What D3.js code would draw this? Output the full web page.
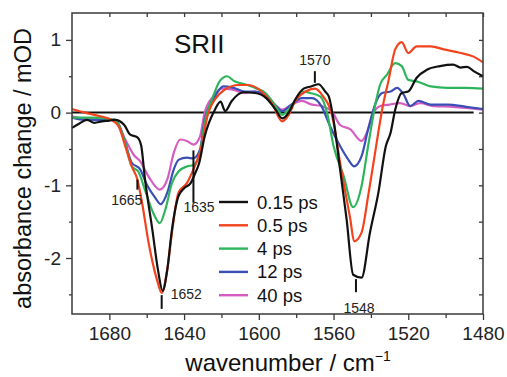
<!DOCTYPE html>
<html>
<head>
<meta charset="utf-8">
<script src="https://cdn.jsdelivr.net/npm/d3@7"></script>
<style>
  body { margin: 0; background: #fff; }
  svg { display: block; font-family: "Liberation Sans", Arial, sans-serif; }
  .tick text { fill: #222; }
</style>
</head>
<body>
<div id="container"></div>
<script>
// delay labels, colours for the legend
const delays = ["0.15 ps", "0.5 ps", "4 ps", "12 ps", "40 ps"];
const colors = ["#111111", "#f2431d", "#2eb55c", "#3a4fb6", "#d65cc2"];

// spectra, [wavenumber, mOD]
const s015 = [[1700,-0.21],[1696,-0.15],[1692,-0.10],[1688,-0.14],[1684,-0.12],[1680,-0.11],[1677,-0.10],[1672,-0.17],[1669,-0.30],[1665,-0.34],[1663,-0.45],[1661,-0.9],[1657,-1.61],[1654,-2.16],[1651.5,-2.45],[1649,-2.16],[1646.5,-1.61],[1643,-1.15],[1640,-1.04],[1636.5,-0.97],[1634,-0.83],[1632,-0.70],[1629,-0.33],[1623.5,0.04],[1620.5,0.15],[1618,0.02],[1614.5,0.16],[1608,0.28],[1602,0.27],[1596,0.20],[1591,0.04],[1587.5,-0.08],[1584,0.0],[1580.5,0.18],[1576,0.33],[1572,0.36],[1568,0.39],[1564.5,0.29],[1562.5,0.22],[1560,-0.1],[1556.5,-0.78],[1553,-1.47],[1549.5,-2.23],[1545,-2.27],[1540.5,-1.65],[1536,-1.10],[1532,-0.46],[1529.5,-0.28],[1527,0.04],[1523.5,0.27],[1520,0.29],[1515.5,0.48],[1510,0.59],[1503,0.64],[1496,0.66],[1492,0.62],[1488.5,0.63],[1485,0.57],[1480,0.50]];
const s05 = [[1700,0.05],[1693,0.0],[1685,-0.05],[1679,-0.10],[1675,-0.19],[1671.5,-0.46],[1668,-0.74],[1665,-0.92],[1662.5,-1.24],[1659,-1.79],[1654.5,-2.30],[1652,-2.48],[1649,-2.16],[1646.5,-1.65],[1643,-1.10],[1638.5,-0.97],[1635,-0.78],[1631.5,-0.55],[1627,0.0],[1623.5,0.18],[1618,0.32],[1611,0.38],[1605.5,0.38],[1598.5,0.29],[1593,0.13],[1587.5,-0.12],[1584,-0.03],[1580.5,0.16],[1575,0.29],[1570,0.33],[1565.5,0.22],[1561,-0.02],[1559.5,-0.2],[1556.5,-0.69],[1551,-1.47],[1549,-1.77],[1545,-1.65],[1541.5,-1.15],[1537.5,-0.51],[1534,0.04],[1530.5,0.45],[1527,0.87],[1523.5,0.97],[1520,0.82],[1515.5,0.91],[1508,0.91],[1501,0.87],[1492,0.82],[1485,0.77],[1480,0.69]];
const s4 = [[1700,-0.07],[1689,-0.07],[1677,-0.10],[1671.5,-0.42],[1668,-0.74],[1664.5,-0.81],[1661,-1.06],[1656.5,-1.38],[1653,-1.52],[1650,-1.33],[1646.5,-0.97],[1643,-0.81],[1638.5,-0.74],[1635,-0.72],[1631.5,-0.55],[1629,-0.14],[1624.5,0.22],[1621,0.43],[1617,0.50],[1613,0.43],[1607.5,0.39],[1602,0.34],[1596.5,0.27],[1591.5,0.11],[1587.5,-0.03],[1582.5,0.09],[1577,0.29],[1572.5,0.27],[1567,0.22],[1563.5,0.0],[1560,-0.46],[1554.5,-0.88],[1549.5,-1.30],[1545,-1.01],[1541.5,-0.46],[1537.5,0.13],[1535,0.39],[1531.5,0.52],[1527,0.68],[1523.5,0.64],[1520,0.45],[1515.5,0.43],[1508,0.36],[1499,0.34],[1489,0.34],[1480,0.33]];
const s12 = [[1700,-0.07],[1693,-0.10],[1677,-0.10],[1672,-0.37],[1668,-0.69],[1663.5,-0.78],[1660,-0.99],[1655.5,-1.17],[1652.5,-1.26],[1649,-1.10],[1645.5,-0.78],[1643,-0.65],[1638.5,-0.62],[1635,-0.63],[1631.5,-0.51],[1629,-0.10],[1623.5,0.22],[1619,0.36],[1613.5,0.34],[1607.5,0.29],[1602,0.29],[1596.5,0.25],[1591.5,0.11],[1587.5,0.02],[1582.5,0.11],[1577,0.20],[1571.5,0.20],[1566.5,0.09],[1561.8,-0.19],[1556.5,-0.46],[1552,-0.65],[1549,-0.74],[1545,-0.60],[1541.5,-0.23],[1537.5,0.13],[1534,0.27],[1529.5,0.29],[1526,0.34],[1522.5,0.25],[1519,0.09],[1514.5,0.16],[1508,0.11],[1499,0.11],[1489,0.08],[1480,0.05]];
const s40 = [[1700,-0.05],[1691,-0.09],[1677,-0.10],[1671.5,-0.37],[1667,-0.58],[1663.5,-0.67],[1659,-0.88],[1653,-1.06],[1649,-0.92],[1645.5,-0.55],[1642,-0.37],[1638.5,-0.39],[1635,-0.44],[1631.5,-0.33],[1629,0.0],[1624.5,0.22],[1620,0.33],[1614.5,0.32],[1607.5,0.27],[1602,0.29],[1596,0.20],[1590.5,0.09],[1587.5,0.04],[1582.5,0.11],[1577,0.16],[1571.5,0.11],[1566.5,0.09],[1561,0.02],[1556.5,-0.17],[1551,-0.23],[1545,-0.39],[1541.5,-0.23],[1538.5,0.0],[1535,0.09],[1530,0.11],[1524.5,0.13],[1519,0.09],[1513.5,0.13],[1506.5,0.09],[1496,0.08],[1480,0.04]];
const spectra = [s015, s05, s4, s12, s40];

// tick values
const xMajor = [1680, 1640, 1600, 1560, 1520, 1480];
const xMinor = [1660, 1620, 1580, 1540, 1500];
const yMajor = [1, 0, -1, -2];
const yMinor = [0.5, -0.5, -1.5, -2.5];

// band assignments: [wavenumber, label side]
const bands = [[1665, "left"], [1635, "right"], [1652, "right"], [1570, "top"], [1548, "bottom"]];

const W = 507, H = 377;
const L = 72, R = 483, T = 13, B = 314;

const svg = d3.select("#container").append("svg")
    .attr("width", W).attr("height", H);

const x = d3.scaleLinear().domain([1700, 1480]).range([L, R]);
const y = d3.scaleLinear().domain([-2.77, 1.37]).range([B, T]);

const frameCol = "#3a3a3a";

// axes
function styleAxis(g) {
    g.select(".domain").remove();
    g.selectAll(".tick line").attr("stroke", frameCol).attr("stroke-width", 1.3);
}
svg.append("g").attr("transform", `translate(0,${B})`)
    .call(d3.axisBottom(x).tickValues(xMajor).tickSize(6).tickPadding(7).tickFormat(d => d))
    .call(styleAxis)
    .selectAll("text").style("font-size", "19px");
svg.append("g").attr("transform", `translate(0,${B})`)
    .call(d3.axisBottom(x).tickValues(xMinor).tickSize(4).tickFormat(""))
    .call(styleAxis);
svg.append("g").attr("transform", `translate(0,${T})`)
    .call(d3.axisTop(x).tickValues(xMajor.concat(xMinor)).tickSize(-4).tickFormat(""))
    .call(styleAxis);
svg.append("g").attr("transform", `translate(${L},0)`)
    .call(d3.axisLeft(y).tickValues(yMajor).tickSize(6).tickPadding(5).tickFormat(d => String(d)))
    .call(styleAxis)
    .selectAll("text").style("font-size", "19px");
svg.append("g").attr("transform", `translate(${L},0)`)
    .call(d3.axisLeft(y).tickValues(yMinor).tickSize(3).tickFormat(""))
    .call(styleAxis);
svg.append("g").attr("transform", `translate(${R},0)`)
    .call(d3.axisRight(y).tickValues(yMajor.concat(yMinor)).tickSize(-4).tickFormat(""))
    .call(styleAxis);

// zero line
svg.append("line")
    .attr("x1", x(1700)).attr("x2", x(1485))
    .attr("y1", y(0)).attr("y2", y(0))
    .attr("stroke", "#111").attr("stroke-width", 2);

// spectra, black drawn last so it sits on top
const line = d3.line()
    .x(d => x(d[0]))
    .y(d => y(d[1]))
    .curve(d3.curveMonotoneX);

svg.append("g").selectAll("path")
    .data(spectra.map((s, i) => ({ s, i })).reverse())
    .join("path")
    .attr("d", d => line(d.s))
    .attr("fill", "none")
    .attr("stroke", d => colors[d.i])
    .attr("stroke-width", 2.2)
    .attr("stroke-linejoin", "round");

// frame
svg.append("rect")
    .attr("x", L).attr("y", T)
    .attr("width", R - L).attr("height", B - T)
    .attr("fill", "none").attr("stroke", frameCol).attr("stroke-width", 1.5);

// band markers
const mark = svg.append("g").style("font-size", "14px").attr("fill", "#222");
function bandMark(wn, y1, y2, tx, ty, anchor) {
    mark.append("line")
        .attr("x1", x(wn)).attr("x2", x(wn)).attr("y1", y1).attr("y2", y2)
        .attr("stroke", "#111").attr("stroke-width", 2);
    mark.append("text").attr("x", tx).attr("y", ty)
        .attr("text-anchor", anchor).text(wn);
}
bandMark(bands[0][0], y(-0.92), y(-1.06), x(1665) + 5, y(-1.27), "end");
bandMark(bands[1][0], y(-0.52), y(-1.24), x(1635) - 10, y(-1.37), "start");
bandMark(bands[2][0], y(-2.51), y(-2.7), x(1652) + 9, y(-2.56), "start");
bandMark(bands[3][0], y(0.57), y(0.41), x(1570), y(0.66), "middle");
bandMark(bands[4][0], y(-2.29), y(-2.47), x(1548) + 3, y(-2.76), "middle");

// SRII label
svg.append("text")
    .attr("x", 174).attr("y", 53)
    .style("font-size", "26px").attr("fill", "#111")
    .text("SRII");

// legend
const leg = svg.append("g");
delays.forEach((lab, i) => {
    const ly = 202 + i * 23.3;
    leg.append("line")
        .attr("x1", 219).attr("x2", 248).attr("y1", ly).attr("y2", ly)
        .attr("stroke", colors[i]).attr("stroke-width", 2.4);
    leg.append("text")
        .attr("x", 257).attr("y", ly + 6.5)
        .style("font-size", "18.5px").attr("fill", "#111")
        .text(lab);
});

// axis titles
svg.append("text")
    .attr("transform", `translate(31,${(T + B) / 2 + 5}) rotate(-90)`)
    .attr("text-anchor", "middle")
    .style("font-size", "23.5px").attr("fill", "#111")
    .text("absorbance change / mOD");

const xt = svg.append("text")
    .attr("x", 288).attr("y", 371)
    .attr("text-anchor", "middle")
    .style("font-size", "24px").attr("fill", "#111");
xt.append("tspan").text("wavenumber / cm");
xt.append("tspan").attr("dy", -10).style("font-size", "14px").text("\u22121");
</script>
</body>
</html>
